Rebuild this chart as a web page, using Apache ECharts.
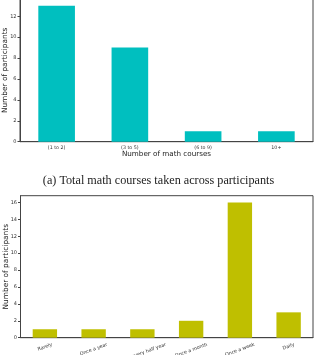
<!DOCTYPE html>
<html><head><meta charset="utf-8">
<script src="https://cdn.jsdelivr.net/npm/echarts@6/dist/echarts.min.js"></script>
<style>html,body{margin:0;padding:0;background:#fff}#c{width:317px;height:355px}</style>
</head><body><div id="c"></div>
<script>
const courseCats = ['(1 to 2)', '(3 to 5)', '(6 to 9)', '10+'];
const courseVals = [13, 9, 1, 1];
const courseTicks = [0, 2, 4, 6, 8, 10, 12];
const freqCats = ['Rarely', 'Once a year', 'Once every half year', 'Once a month', 'Once a week', 'Daily'];
const freqVals = [1, 1, 1, 2, 16, 3];
const freqTicks = [0, 2, 4, 6, 8, 10, 12, 14, 16];
const caption = '(a) Total math courses taken across participants';

const F = 'DejaVu Sans';
const LFS = 4.8;
// matplotlib-style rotated labels: each label's bounding-box top sits a fixed gap below the axis
const mctx = document.createElement('canvas').getContext('2d');
mctx.font = LFS + 'px "' + F + '"';
const s20 = Math.sin(20 * Math.PI / 180), c20 = Math.cos(20 * Math.PI / 180);
const labelMargins = freqCats.map(t => {
  const w = mctx.measureText(t).width;
  const bh = w * s20 + LFS * c20;
  return 4.5 + bh / 2;
});

const chart = echarts.init(document.getElementById('c'), null, {renderer: 'canvas'});
const yAx = (gi, max) => ({
  type: 'value', gridIndex: gi, min: 0, max: max, interval: 2,
  name: 'Number of participants', nameLocation: 'middle', nameRotate: 90, nameGap: 11,
  nameMoveOverlap: false,
  nameTextStyle: {fontFamily: F, fontSize: 7.4, color: '#222'},
  axisLine: {show: true, lineStyle: {color: '#444', width: 1}},
  axisTick: {show: true, length: 2.5, lineStyle: {color: '#444'}},
  axisLabel: {fontFamily: F, fontSize: 5, color: '#333', margin: 3.5, showMaxLabel: false},
  splitLine: {show: false}
});
const labelAxes = freqCats.map((t, i) => ({
  type: 'category', gridIndex: 1, data: freqCats, position: 'bottom',
  axisLine: {show: false}, axisTick: {show: false}, splitLine: {show: false},
  axisLabel: {fontFamily: F, fontSize: LFS, color: '#333', rotate: 20, align: 'center', verticalAlign: 'middle',
    margin: labelMargins[i], interval: (idx) => idx === i}
}));
chart.setOption({
  animation: false,
  title: {text: caption, left: 'center', top: 170,
    textStyle: {fontFamily: 'Liberation Serif', fontSize: 12.2, fontWeight: 'normal', color: '#222'}},
  grid: [
    {left: 20, right: 4, top: -1, height: 142.7, show: true, borderColor: '#444', borderWidth: 1,
      containLabel: false, outerBoundsMode: 'none'},
    {left: 20.5, right: 4, top: 195.7, height: 142, show: true, borderColor: '#444', borderWidth: 1,
      containLabel: false, outerBoundsMode: 'none'}
  ],
  xAxis: [
    {type: 'category', gridIndex: 0, data: courseCats,
      name: 'Number of math courses', nameLocation: 'middle', nameGap: 9, nameMoveOverlap: false,
      nameTextStyle: {fontFamily: F, fontSize: 7.2, color: '#222'},
      axisLine: {lineStyle: {color: '#444'}},
      axisTick: {alignWithLabel: true, length: 2.5, lineStyle: {color: '#444'}},
      axisLabel: {fontFamily: F, fontSize: 4.8, color: '#333', margin: 3.5}},
    {type: 'category', gridIndex: 1, data: freqCats, position: 'bottom',
      axisLine: {lineStyle: {color: '#444'}},
      axisTick: {alignWithLabel: true, length: 2.5, lineStyle: {color: '#444'}},
      axisLabel: {show: false}}
  ].concat(labelAxes),
  yAxis: [yAx(0, 13.65), yAx(1, 16.8)],
  series: [
    {type: 'bar', xAxisIndex: 0, yAxisIndex: 0, data: courseVals, barWidth: '50%',
      itemStyle: {color: '#00bfbf'}},
    {type: 'bar', xAxisIndex: 1, yAxisIndex: 1, data: freqVals, barWidth: '50%',
      itemStyle: {color: '#bfbf00'}}
  ]
});
</script></body></html>
